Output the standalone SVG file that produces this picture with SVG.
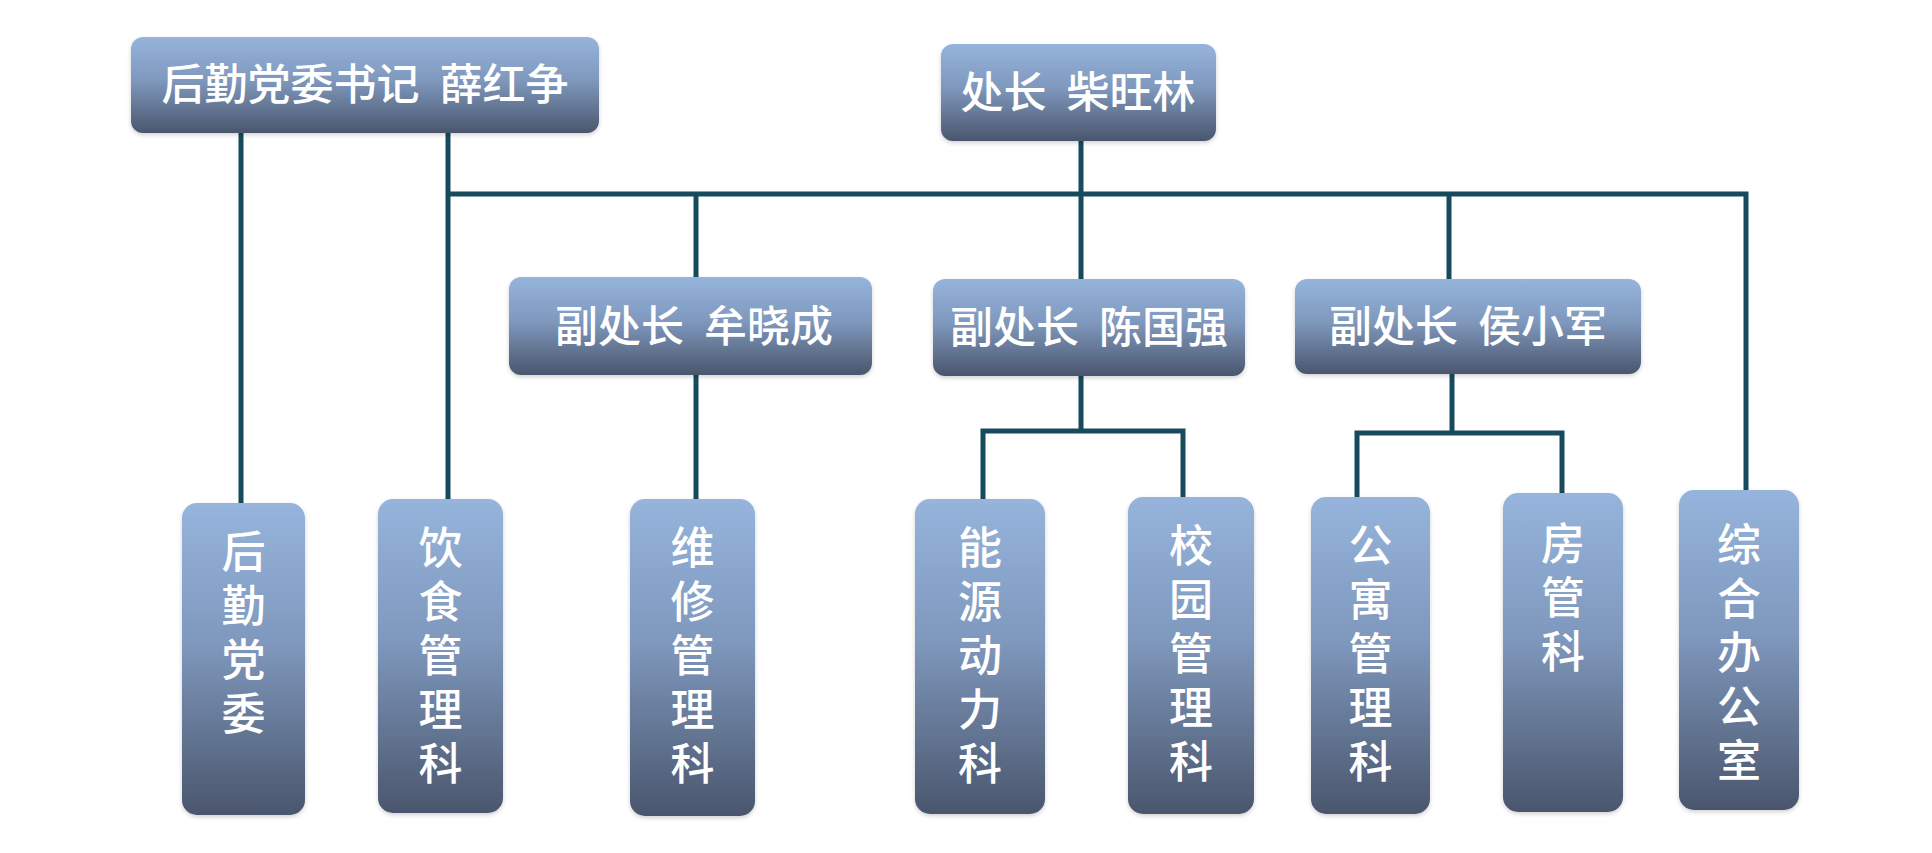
<svg xmlns="http://www.w3.org/2000/svg" width="1932" height="853" viewBox="0 0 1932 853">
<defs>
<linearGradient id="g" x1="0" y1="0" x2="0" y2="1">
<stop offset="0" stop-color="#96b4dc"/>
<stop offset="0.45" stop-color="#7f98bd"/>
<stop offset="1" stop-color="#4a566d"/>
</linearGradient>
<filter id="sh" x="-10%" y="-10%" width="120%" height="120%">
<feDropShadow dx="0" dy="2" stdDeviation="2" flood-color="#000" flood-opacity="0.18"/>
</filter>
</defs>
<style>
.box{fill:url(#g);filter:url(#sh);}
.t{font-family:"Noto Sans CJK SC","Noto Sans",sans-serif;font-size:43px;font-weight:500;fill:#ffffff;text-anchor:middle;}
.v{font-family:"Noto Sans CJK SC","Noto Sans",sans-serif;font-size:44px;font-weight:500;fill:#ffffff;text-anchor:start;writing-mode:vertical-rl;letter-spacing:10px;}
.c{fill:none;stroke:#174a5c;stroke-width:5;stroke-linejoin:miter;stroke-linecap:butt;}
</style>
<rect width="1932" height="853" fill="#ffffff"/>
<g id="connectors">
<path class="c" d="M241,132 V503"/>
<path class="c" d="M448,132 V499"/>
<path class="c" d="M448,194 H1746 V490"/>
<path class="c" d="M1081,140 V279"/>
<path class="c" d="M696,194 V277"/>
<path class="c" d="M1449,194 V279"/>
<path class="c" d="M696,375 V499"/>
<path class="c" d="M1081,376 V431"/>
<path class="c" d="M983,499 V431 H1183 V497"/>
<path class="c" d="M1452,374 V433"/>
<path class="c" d="M1357,497 V433 H1562 V493"/>
</g>
<g id="n_secretary">
<rect class="box" x="131" y="37" width="468" height="96" rx="12"/>
<text class="t" x="365" y="100">后勤党委书记<tspan dx="20">薛红争</tspan></text>
</g>
<g id="n_director">
<rect class="box" x="941" y="44" width="275" height="97" rx="12"/>
<text class="t" x="1078" y="108">处长<tspan dx="20">柴旺林</tspan></text>
</g>
<g id="n_deputy1">
<rect class="box" x="509" y="277" width="363" height="98" rx="12"/>
<text class="t" x="694" y="342">副处长<tspan dx="20">牟晓成</tspan></text>
</g>
<g id="n_deputy2">
<rect class="box" x="933" y="279" width="312" height="97" rx="12"/>
<text class="t" x="1089" y="343">副处长<tspan dx="20">陈国强</tspan></text>
</g>
<g id="n_deputy3">
<rect class="box" x="1295" y="279" width="346" height="95" rx="12"/>
<text class="t" x="1468" y="342">副处长<tspan dx="20">侯小军</tspan></text>
</g>
<g id="n_party">
<rect class="box" x="182" y="503" width="123" height="312" rx="15"/>
<text class="v" x="243.5" y="529">后勤党委</text>
</g>
<g id="n_food">
<rect class="box" x="378" y="499" width="125" height="314" rx="15"/>
<text class="v" x="440.5" y="525">饮食管理科</text>
</g>
<g id="n_repair">
<rect class="box" x="630" y="499" width="125" height="317" rx="15"/>
<text class="v" x="692.5" y="525">维修管理科</text>
</g>
<g id="n_energy">
<rect class="box" x="915" y="499" width="130" height="315" rx="15"/>
<text class="v" x="980" y="525">能源动力科</text>
</g>
<g id="n_campus">
<rect class="box" x="1128" y="497" width="126" height="317" rx="15"/>
<text class="v" x="1191" y="523">校园管理科</text>
</g>
<g id="n_apartment">
<rect class="box" x="1311" y="497" width="119" height="317" rx="15"/>
<text class="v" x="1370.5" y="523">公寓管理科</text>
</g>
<g id="n_housing">
<rect class="box" x="1503" y="493" width="120" height="319" rx="15"/>
<text class="v" x="1563" y="521">房管科</text>
</g>
<g id="n_office">
<rect class="box" x="1679" y="490" width="120" height="320" rx="15"/>
<text class="v" x="1739" y="522">综合办公室</text>
</g>
</svg>
